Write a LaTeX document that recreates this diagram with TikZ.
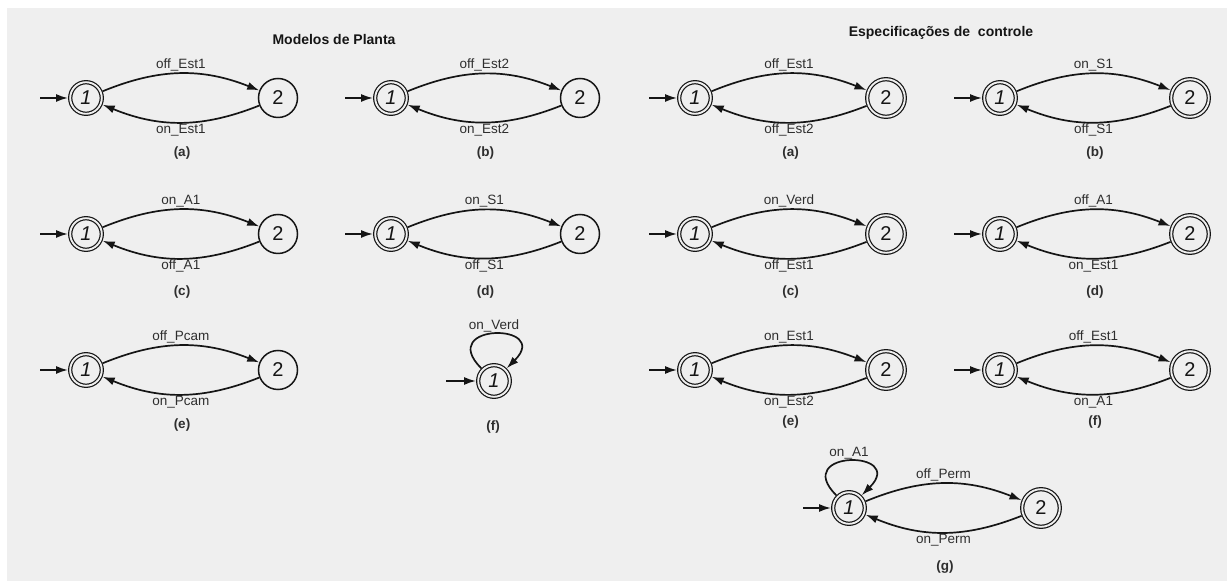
\documentclass[tikz,border=0pt]{standalone}
\usepackage{fontspec}
\setmainfont{Liberation Sans}
\usetikzlibrary{arrows.meta,calc}
\definecolor{bg}{HTML}{EFEFEF}
\definecolor{lc}{HTML}{151515}
\definecolor{tc}{HTML}{2E2E2E}
\newcommand\autom[9]{%
  \node[st1] (#1-1) at (#2,#4) {1};
  \node[#8] (#1-2) at (#3,#4) {2};
  \coordinate (#1-0) at ($(#1-1)+(-46,0)$);
  \draw[tr] (#1-0) -- (#1-1);
  \draw[tr] (#1-1) to[bend left=22] node[lab,above=0.5pt] {#5} (#1-2);
  \draw[tr] (#1-2) to[bend left=22] node[lab,below=0pt] {#6} (#1-1);
  \node[capt] (#1-c) at ($(#1-1)!0.5!(#1-2)+(0,#9-#4)$) {#7};
}
\begin{document}
\begin{tikzpicture}[x=1pt,y=1pt,
  st1/.style={circle,draw=lc,double=bg,double distance=1.9pt,line width=1.2pt,
    minimum size=31.6pt,inner sep=0pt,outer sep=2.2pt,text=lc,
    font=\fontsize{20}{20}\selectfont\itshape},
  st2/.style={circle,draw=lc,line width=1.5pt,minimum size=39pt,inner sep=0pt,text=lc,
    font=\fontsize{20}{20}\selectfont},
  st2d/.style={circle,draw=lc,double=bg,double distance=1.9pt,line width=1.2pt,
    minimum size=37.6pt,inner sep=0pt,outer sep=2.2pt,text=lc,
    font=\fontsize{20}{20}\selectfont},
  tr/.style={draw=lc,line width=1.7pt,-{Latex[length=12pt,width=8pt]}},
  selfloop/.style={out=135,in=45,looseness=6.5},
  lab/.style={text=tc,inner sep=1pt,font=\fontsize{13.5}{14}\selectfont},
  capt/.style={text=tc,inner sep=1pt,font=\fontsize{13.5}{14}\selectfont\bfseries},
  ttl/.style={text=lc,inner sep=1pt,font=\fontsize{14}{15}\selectfont\bfseries}]
\useasboundingbox (0,0) rectangle (1227,581);
\fill[bg] (7,0) rectangle (1227,573);
\node[ttl] (t1) at (334,541) {Modelos de Planta};
\node[ttl] (t2) at (941,548) {Especificações de\ \ controle};
% plant models
\autom{pa}{86}{278}{483}{off\_Est1}{on\_Est1}{(a)}{st2}{428}
\autom{pb}{391}{580}{483}{off\_Est2}{on\_Est2}{(b)}{st2}{428}
\autom{pc}{86}{278}{347}{on\_A1}{off\_A1}{(c)}{st2}{289}
\autom{pd}{391}{580}{347}{on\_S1}{off\_S1}{(d)}{st2}{289}
\autom{pe}{86}{278}{211}{off\_Pcam}{on\_Pcam}{(e)}{st2}{156}
\node[st1] (pf-1) at (494,200) {1};
\coordinate (pf-0) at (446,200);
\draw[tr] (pf-0) -- (pf-1);
\draw[tr] (pf-1) to[selfloop] node[lab,above=0pt] {on\_Verd} (pf-1);
\node[capt] (pf-c) at (493,154) {(f)};
% specifications
\autom{sa}{695}{886}{483}{off\_Est1}{off\_Est2}{(a)}{st2d}{428}
\autom{sb}{1000}{1190}{483}{on\_S1}{off\_S1}{(b)}{st2d}{428}
\autom{sc}{695}{886}{347}{on\_Verd}{off\_Est1}{(c)}{st2d}{289}
\autom{sd}{1000}{1190}{347}{off\_A1}{on\_Est1}{(d)}{st2d}{289}
\autom{se}{695}{886}{211}{on\_Est1}{on\_Est2}{(e)}{st2d}{159}
\autom{sf}{1000}{1190}{211}{off\_Est1}{on\_A1}{(f)}{st2d}{159}
\autom{sg}{849}{1041}{73}{off\_Perm}{on\_Perm}{(g)}{st2d}{14}
\draw[tr] (sg-1) to[selfloop] node[lab,above=0pt] {on\_A1} (sg-1);
\end{tikzpicture}
\end{document}
